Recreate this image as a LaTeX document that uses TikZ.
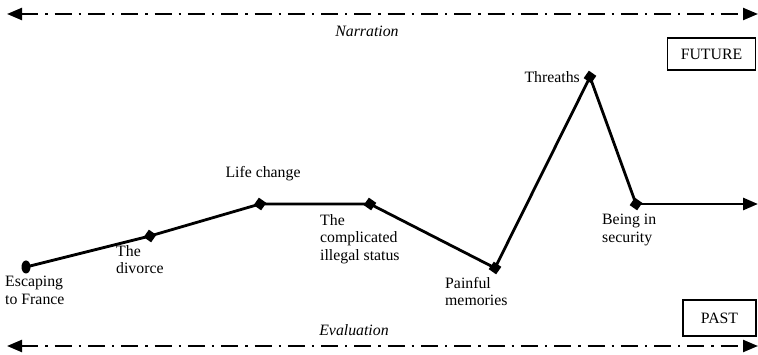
\documentclass[tikz,border=0pt]{standalone}
\usepackage{fontspec}
\setmainfont{Liberation Serif}
\usetikzlibrary{arrows.meta,shapes.geometric}
\begin{document}
\begin{tikzpicture}[x=1pt,y=-1pt,
  lbl/.style={font=\fontsize{15.8}{17.5}\selectfont, inner sep=0pt, align=left},
  tl/.style={line width=2.3pt, dash pattern=on 17pt off 7pt on 2.3pt off 7pt, {Triangle[length=15pt,width=12pt]}-{Triangle[length=15pt,width=12pt]}},
  pline/.style={line width=2.8pt, line join=miter},
  dia/.style={diamond, fill=black, inner sep=0pt, minimum width=13pt, minimum height=13pt, rotate=10},
  ell/.style={ellipse, fill=black, inner sep=0pt, minimum width=9pt, minimum height=13pt},
  box/.style={draw, line width=1.4pt, font=\fontsize{15.8}{16}\selectfont, inner sep=0pt}]
\useasboundingbox (0,0) rectangle (758,355);
% timeline arrows
\coordinate (tl) at (7,14); \coordinate (tr) at (758,14);
\coordinate (bl) at (7,346); \coordinate (br) at (758,346);
\draw[tl] (tl) -- (tr);
\draw[tl] (bl) -- (br);
\node[lbl, font=\itshape\fontsize{15.8}{16}\selectfont] (narr) at (367,31) {Narration};
\node[lbl, font=\itshape\fontsize{15.8}{16}\selectfont] (eval) at (354,330) {Evaluation};
% boxes
\node[box, minimum width=88pt, minimum height=32pt] (fut) at (711.5,54) {FUTURE};
\node[box, minimum width=73pt, minimum height=36pt] (past) at (719.5,318) {PAST};
% points
\node[ell] (p1) at (26,267) {};
\node[dia] (p2) at (150,236) {};
\node[dia] (p3) at (260,204) {};
\node[dia] (p4) at (370,204) {};
\node[dia] (p5) at (495,268) {};
\node[dia] (p6) at (590,77) {};
\node[dia] (p7) at (636,204) {};
\coordinate (end) at (758,204);
\draw[pline] (p1.center) -- (p2.center) -- (p3.center) -- (p4.center) -- (p5.center) -- (p6.center) -- (p7.center);
\draw[pline, -{Triangle[length=15pt,width=12pt]}] (p7.center) -- (end);
% labels
\node[lbl, anchor=north west] (l1) at (5,276) {Escaping\\to France};
\node[lbl, anchor=north west] (l2) at (116,245) {The\\divorce};
\node[lbl] (l3) at (263,174) {Life change};
\node[lbl, anchor=north west] (l4) at (320,214) {The\\complicated\\illegal status};
\node[lbl, anchor=north west] (l5) at (445,277) {Painful\\memories};
\node[lbl, anchor=east] (l6) at (580,77) {Threaths};
\node[lbl, anchor=north west] (l7) at (602,214) {Being in\\security};
\end{tikzpicture}
\end{document}
